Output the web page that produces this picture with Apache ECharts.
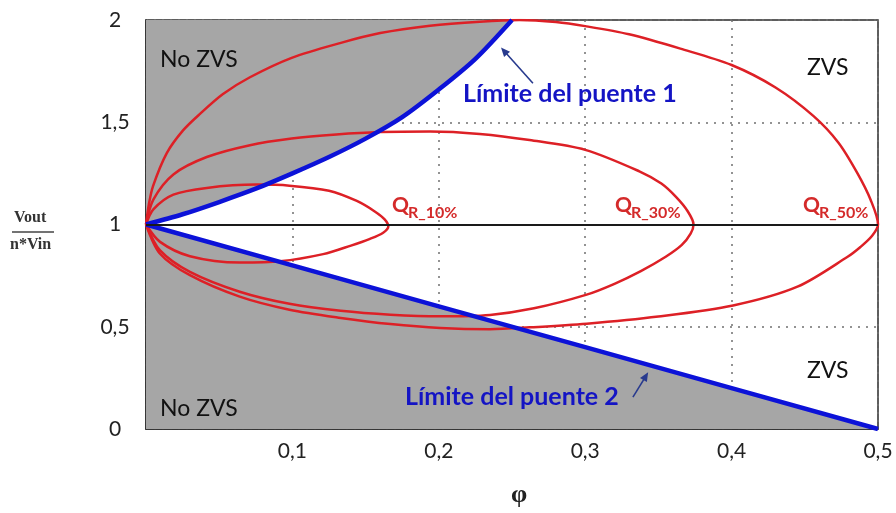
<!DOCTYPE html>
<html><head><meta charset="utf-8">
<script src="https://cdn.jsdelivr.net/npm/echarts@6/dist/echarts.min.js"></script>
<style>html,body{margin:0;padding:0;background:#fff}#c{width:896px;height:513px}</style>
</head><body><div id="c"></div>
<script>
// ---- data ----
const xTickLabels = ['0,1', '0,2', '0,3', '0,4', '0,5'];
const yTickLabels = ['0', '0,5', '1', '1,5', '2'];

// Límite del puente 1 (phi, Vout/n*Vin)
const limit1 = [[0,1],[0.025,1.05],[0.05,1.11],[0.075,1.175],[0.1,1.25],[0.125,1.33],[0.15,1.42],[0.175,1.525],[0.2,1.66],[0.225,1.81],[0.25,2.0]];
// Límite del puente 2
const limit2 = [[0,1],[0.1,0.8],[0.2,0.6],[0.3,0.4],[0.4,0.2],[0.5,0]];

// Q_R curves (closed loops from (0,1))
const qr10 = [[0,1],[0.005,1.074],[0.0187,1.146],[0.0415,1.179],[0.0756,1.195],[0.098,1.19],[0.125,1.165],[0.144,1.115],[0.156,1.065],[0.163,1.025],[0.1655,0.99],[0.162,0.96],[0.153,0.93],[0.14,0.897],[0.121,0.855],[0.0915,0.82],[0.064,0.814],[0.03,0.845],[0.0096,0.915],[0,1]];
const qr30 = [[0,1],[0.005,1.122],[0.0187,1.245],[0.0415,1.33],[0.071,1.388],[0.0995,1.42],[0.13,1.44],[0.16,1.452],[0.194,1.455],[0.228,1.443],[0.262,1.413],[0.3,1.365],[0.337,1.26],[0.352,1.2],[0.362,1.135],[0.37,1.065],[0.374,1.0],[0.372,0.955],[0.366,0.9],[0.355,0.842],[0.338,0.772],[0.32,0.71],[0.301,0.657],[0.265,0.59],[0.235,0.558],[0.201,0.551],[0.167,0.559],[0.133,0.578],[0.098,0.612],[0.064,0.671],[0.03,0.768],[0.0096,0.873],[0,1]];
const qr50 = [[0,1],[0.002,1.1],[0.0048,1.188],[0.0141,1.348],[0.0253,1.46],[0.0369,1.541],[0.0526,1.638],[0.071,1.72],[0.0995,1.815],[0.1325,1.887],[0.16,1.936],[0.194,1.972],[0.228,1.992],[0.255,2.0],[0.28,1.99],[0.3,1.97],[0.33,1.93],[0.365,1.86],[0.4,1.78],[0.43,1.67],[0.456,1.53],[0.473,1.4],[0.486,1.25],[0.495,1.12],[0.5,1.0],[0.496,0.945],[0.488,0.89],[0.479,0.841],[0.445,0.696],[0.401,0.604],[0.35,0.55],[0.301,0.515],[0.262,0.497],[0.235,0.488],[0.201,0.494],[0.167,0.513],[0.133,0.543],[0.098,0.583],[0.064,0.647],[0.03,0.752],[0.0096,0.857],[0,1]];

// ---- annotations (anchored in data space) ----
const ann = {
  arrow1: [[0.2643,1.691],[0.2425,1.865]],
  arrow2: [[0.3326,0.156],[0.343,0.277]],
  noZvsTop: [0.0096,1.807], noZvsBottom: [0.0096,0.101],
  zvsTop: [0.4515,1.768], zvsBottom: [0.4515,0.285],
  lim1: [0.2165,1.638], lim2: [0.1769,0.156],
  q10: [0.168,1.092], q30: [0.3204,1.092], q50: [0.4488,1.092]
};

const GRAY = '#a6a6a6', RED = '#dd2026', BLUE = '#0c12d8', TXTBLUE = '#1414c4', ARROW = '#283a8e', QRED = '#d42a2a';
const FONT = 'Lato';

const chart = echarts.init(document.getElementById('c'), null, {renderer: 'canvas'});

function redSeries(name, data) {
  return {name, type: 'line', data, smooth: 0.3, symbol: 'none', z: 3,
    lineStyle: {color: RED, width: 2.5}, silent: true};
}

const option = {
  animation: false,
  backgroundColor: '#fff',
  grid: {left: 146, right: 18, top: 20, bottom: 79, show: true, borderColor: '#2a2a2a', borderWidth: 1.5, backgroundColor: 'transparent'},
  xAxis: {
    type: 'value', min: 0, max: 0.5, interval: 0.1,
    name: 'φ', nameLocation: 'middle', nameGap: 53,
    nameTextStyle: {fontFamily: 'Liberation Serif', fontWeight: 'bold', fontSize: 26, color: '#222', padding: [0, 0, 0, 14]},
    axisLine: {show: true, lineStyle: {color: '#2a2a2a', width: 1.5}},
    axisTick: {show: false},
    axisLabel: {showMinLabel: false, margin: 12, fontFamily: FONT, fontSize: 21, color: '#222',
      formatter: v => xTickLabels[Math.round(v * 10) - 1] || ''},
    splitLine: {show: true, lineStyle: {color: '#707070', width: 1.5, type: [2, 6]}}
  },
  yAxis: {
    type: 'value', min: 0, max: 2, interval: 0.5,
    axisLine: {show: true, lineStyle: {color: '#2a2a2a', width: 1.5}},
    axisTick: {show: false},
    axisLabel: {margin: 31, align: 'center', fontFamily: FONT, fontSize: 21, color: '#222',
      formatter: v => yTickLabels[Math.round(v * 2)]},
    splitLine: {show: true, lineStyle: {color: '#707070', width: 1.5, type: [2, 6]}}
  },
  series: [
    {name: 'noZvs1', type: 'line', data: limit1, smooth: 0.3, symbol: 'none', z: 1, silent: true,
      lineStyle: {width: 0}, areaStyle: {color: GRAY, opacity: 1, origin: 'end'}},
    {name: 'noZvs2', type: 'line', data: limit2, symbol: 'none', z: 1, silent: true,
      lineStyle: {width: 0}, areaStyle: {color: GRAY, opacity: 1, origin: 'start'},
      markLine: {silent: true, symbol: 'none', label: {show: false}, animation: false,
        lineStyle: {color: '#1a1a1a', width: 2, type: 'solid'}, data: [{yAxis: 1}]}},
    redSeries('QR10', qr10),
    redSeries('QR30', qr30),
    redSeries('QR50', qr50),
    {name: 'Límite del puente 1', type: 'line', data: limit1, smooth: 0.3, symbol: 'none', z: 4, silent: true,
      lineStyle: {color: BLUE, width: 4.5}},
    {name: 'Límite del puente 2', type: 'line', data: limit2, symbol: 'none', z: 4, silent: true,
      lineStyle: {color: BLUE, width: 4.5}}
  ]
};
chart.setOption(option);

function px(p) { return chart.convertToPixel({gridIndex: 0}, p); }
function txt(p, text, style, dx, dy) {
  const q = px(p);
  return {type: 'text', x: q[0] + (dx || 0), y: q[1] + (dy || 0), z: 10, silent: true,
    style: Object.assign({text, align: 'left', verticalAlign: 'middle', fontFamily: FONT}, style)};
}
function arrow(a) {
  const p1 = px(a[0]), p2 = px(a[1]);
  const dx = p2[0] - p1[0], dy = p2[1] - p1[1], L = Math.hypot(dx, dy);
  const ux = dx / L, uy = dy / L, hl = 9, hw = 4;
  const bx = p2[0] - ux * hl, by = p2[1] - uy * hl;
  return [
    {type: 'line', z: 10, silent: true, shape: {x1: p1[0], y1: p1[1], x2: bx + ux * 2, y2: by + uy * 2},
      style: {stroke: ARROW, lineWidth: 1.6}},
    {type: 'polygon', z: 10, silent: true,
      shape: {points: [[p2[0], p2[1]], [bx - uy * hw, by + ux * hw], [bx + uy * hw, by - ux * hw]]},
      style: {fill: ARROW}}
  ];
}
const plain = {fill: '#111', fontSize: 23};
const blueBold = {fill: TXTBLUE, fontSize: 25, fontWeight: 'bold'};
const qStyle = {fill: QRED, fontSize: 21, fontWeight: 'bold'};
const subStyle = {fill: QRED, fontSize: 16, fontWeight: 'bold'};

const graphics = [
  txt(ann.noZvsTop, 'No ZVS', plain),
  txt(ann.noZvsBottom, 'No ZVS', plain),
  txt(ann.zvsTop, 'ZVS', plain),
  txt(ann.zvsBottom, 'ZVS', plain),
  txt(ann.lim1, 'Límite del puente 1', blueBold),
  txt(ann.lim2, 'Límite del puente 2', blueBold),
  txt(ann.q10, 'Q', qStyle), txt(ann.q10, 'R_10%', subStyle, 16, 7),
  txt(ann.q30, 'Q', qStyle), txt(ann.q30, 'R_30%', subStyle, 16, 7),
  txt(ann.q50, 'Q', qStyle), txt(ann.q50, 'R_50%', subStyle, 16, 7),
  ...arrow(ann.arrow1),
  ...arrow(ann.arrow2),
  // y-axis name as a fraction
  {type: 'text', left: 14, top: 210, silent: true,
    style: {text: 'Vout', fill: '#333', fontFamily: 'Liberation Serif', fontWeight: 'bold', fontSize: 16}},
  {type: 'line', silent: true, shape: {x1: 12, y1: 232, x2: 54, y2: 232}, style: {stroke: '#444', lineWidth: 1.5}},
  {type: 'text', left: 10, top: 237, silent: true,
    style: {text: 'n*Vin', fill: '#333', fontFamily: 'Liberation Serif', fontWeight: 'bold', fontSize: 16}}
];
chart.setOption({graphic: graphics});
</script>
</body></html>
